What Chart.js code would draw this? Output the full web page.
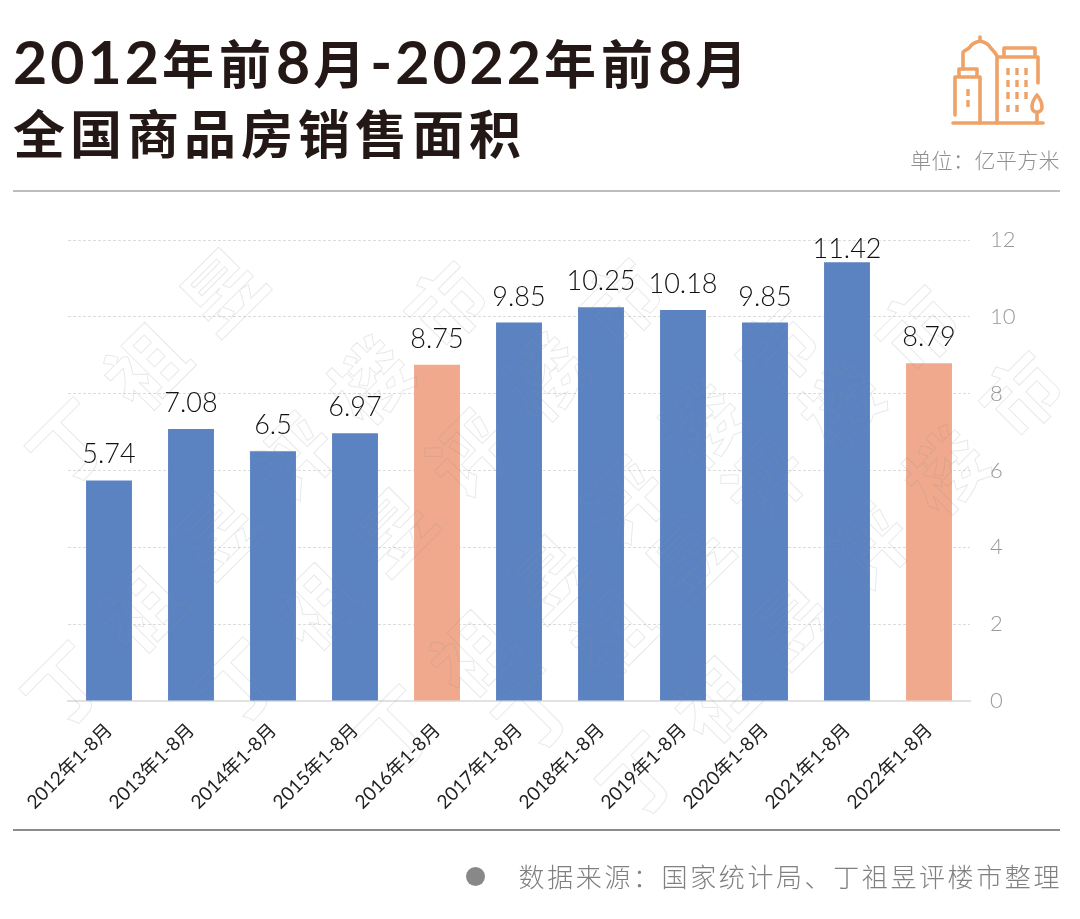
<!DOCTYPE html>
<html lang="zh">
<head>
<meta charset="utf-8">
<title>全国商品房销售面积</title>
<script src="https://cdn.jsdelivr.net/npm/chart.js@4"></script>
<style>
html, body { margin: 0; padding: 0; background: #fff; }
body { position: relative; width: 1080px; height: 919px; overflow: hidden; font-family: "Noto Sans CJK SC", sans-serif; }
.abs { position: absolute; white-space: nowrap; }
#chartBox { position: absolute; left: 0; top: 0; width: 1080px; height: 919px; }
.title { left: 13px; font-size: 52px; font-weight: 700; color: #231815; letter-spacing: 5px; line-height: 70px; }
.title span { font-family: Lato, sans-serif; font-size: 59px; font-weight: 700; letter-spacing: 3px; }
.rule { position: absolute; left: 13px; width: 1047px; }
.unit { right: 20px; top: 144px; font-size: 21px; line-height: 30px; font-weight: 300; color: #8f8f8f; letter-spacing: .4px; }
.source { right: 20px; top: 857px; font-size: 26px; line-height: 38px; font-weight: 300; color: #808080; letter-spacing: 2.6px; margin-right: -2px; }
.dot { position: absolute; left: 466px; top: 867px; width: 19px; height: 19px; border-radius: 50%; background: #888; }
#marks { position: absolute; left: 0; top: 0; pointer-events: none; }
.wm { position: absolute; font-size: 78px; line-height: 80px; font-weight: 700; letter-spacing: 30px; color: transparent;
  -webkit-text-stroke: 1px rgba(140,145,155,.2); transform-origin: 39px 40px; transform: rotate(-45deg); white-space: nowrap; }
</style>
</head>
<body>
<div id="chartBox"><canvas id="myChart"></canvas></div>
<div id="marks"></div>

<div class="abs title" style="top:27px"><span>2012</span>年前<span>8</span>月<span>-2022</span>年前<span>8</span>月</div>
<div class="abs title" style="top:97px">全国商品房销售面积</div>

<svg class="abs" style="left:0;top:0" width="1080" height="140" fill="none" stroke="#EFA268" stroke-width="3.6" stroke-linecap="round" stroke-linejoin="round">
  <path d="M955 115V77H980V123M959 77V69H977V77"/>
  <path d="M963 69V53C963 50 968 50 970 47C972 43 976 42 980 41C984 42 988 43 990 47C992 50 995 52 997 56M980 41V37"/>
  <path d="M997 123V57H1038V83M1004 57V48H1035V57"/>
  <path d="M1037 123V112M1037 95C1033 100 1032 104 1032 107C1032 110 1034 112 1037 112C1040 112 1042 110 1042 107C1042 104 1041 100 1037 95Z"/>
  <path d="M953 123H1043"/>
  <path stroke-width="3.4" stroke-linecap="butt" d="M968 89V96M968 100V107M1008 68V75M1017 68V75M1026 68V75M1008 80V87M1017 80V87M1026 80V87M1008 92V99M1017 92V99M1026 92V99M1008 105V112M1017 105V112"/>
</svg>

<div class="abs unit">单位：亿平方米</div>
<div class="rule" style="top:190px;height:2px;background:#bdbdbd"></div>
<div class="rule" style="top:829px;height:2px;background:#8c8c8c"></div>
<div class="dot"></div>
<div class="abs source">数据来源：国家统计局、丁祖昱评楼市整理</div>

<script>
const categories = ['2012年1-8月', '2013年1-8月', '2014年1-8月', '2015年1-8月', '2016年1-8月', '2017年1-8月',
  '2018年1-8月', '2019年1-8月', '2020年1-8月', '2021年1-8月', '2022年1-8月'];
const salesArea = [5.74, 7.08, 6.5, 6.97, 8.75, 9.85, 10.25, 10.18, 9.85, 11.42, 8.79];
const highlighted = ['2016年1-8月', '2022年1-8月'];
const yTicks = [0, 2, 4, 6, 8, 10, 12];

const blue = '#5B83C2';
const salmon = '#F0A98C';
const latinFont = 'Lato, "Noto Sans CJK SC", sans-serif';

// value above each bar, kept from rising far past the top of the plot
const valueLabels = {
  id: 'valueLabels',
  afterDatasetsDraw(chart) {
    const c = chart.ctx;
    const bars = chart.getDatasetMeta(0).data;
    c.save();
    c.font = '300 27px ' + latinFont;
    c.fillStyle = '#111';
    c.textAlign = 'center';
    c.textBaseline = 'alphabetic';
    bars.forEach(function(bar, i) {
      const y = Math.max(bar.y - 17, chart.chartArea.top + 18);
      c.fillText(String(salesArea[i]), bar.x, y);
    });
    c.restore();
  }
};

Chart.defaults.font.family = latinFont;

new Chart(document.getElementById('myChart'), {
  type: 'bar',
  data: {
    labels: categories,
    datasets: [{
      data: salesArea,
      backgroundColor: categories.map(function(c) { return highlighted.includes(c) ? salmon : blue; }),
      categoryPercentage: 1,
      barPercentage: 0.56
    }]
  },
  plugins: [valueLabels],
  options: {
    responsive: true,
    maintainAspectRatio: false,
    animation: false,
    layout: { padding: { left: 68, top: 240, right: 0, bottom: 0 } },
    plugins: { legend: { display: false }, tooltip: { enabled: false } },
    scales: {
      x: {
        grid: { display: false },
        border: { color: '#e2e2e2', width: 2 },
        afterFit: function(scale) { scale.height = 218; scale.paddingLeft = 0; scale.paddingRight = 0; },
        ticks: {
          minRotation: 45,
          maxRotation: 45,
          padding: 10,
          color: '#222',
          font: { size: 19, weight: 400 }
        }
      },
      y: {
        position: 'right',
        min: 0,
        max: 12,
        afterFit: function(scale) { scale.width = 110; },
        afterBuildTicks: function(scale) { scale.ticks = yTicks.map(function(v) { return { value: v }; }); },
        grid: { color: '#dcdcdc', lineWidth: 1, drawTicks: false },
        border: { display: false, dash: [3, 2] },
        ticks: {
          padding: 20,
          color: '#999',
          align: 'center',
          font: { size: 22, weight: 300 }
        }
      }
    }
  }
});

// faint outlined watermark, one diagonal row per start point
const wmRows = [
  ['丁祖昱', 67, 440],
  ['丁祖昱评楼市', 62, 683],
  ['丁祖昱评楼市', 237, 680],
  ['丁祖昱评楼市', 393, 727],
  ['丁祖昱评楼市', 533, 707],
  ['丁祖昱评楼市', 637, 773]
];
const marks = document.getElementById('marks');
wmRows.forEach(function(r) {
  const el = document.createElement('div');
  el.className = 'wm';
  el.textContent = r[0];
  el.style.left = (r[1] - 39) + 'px';
  el.style.top = (r[2] - 40) + 'px';
  marks.appendChild(el);
});
</script>
</body>
</html>
